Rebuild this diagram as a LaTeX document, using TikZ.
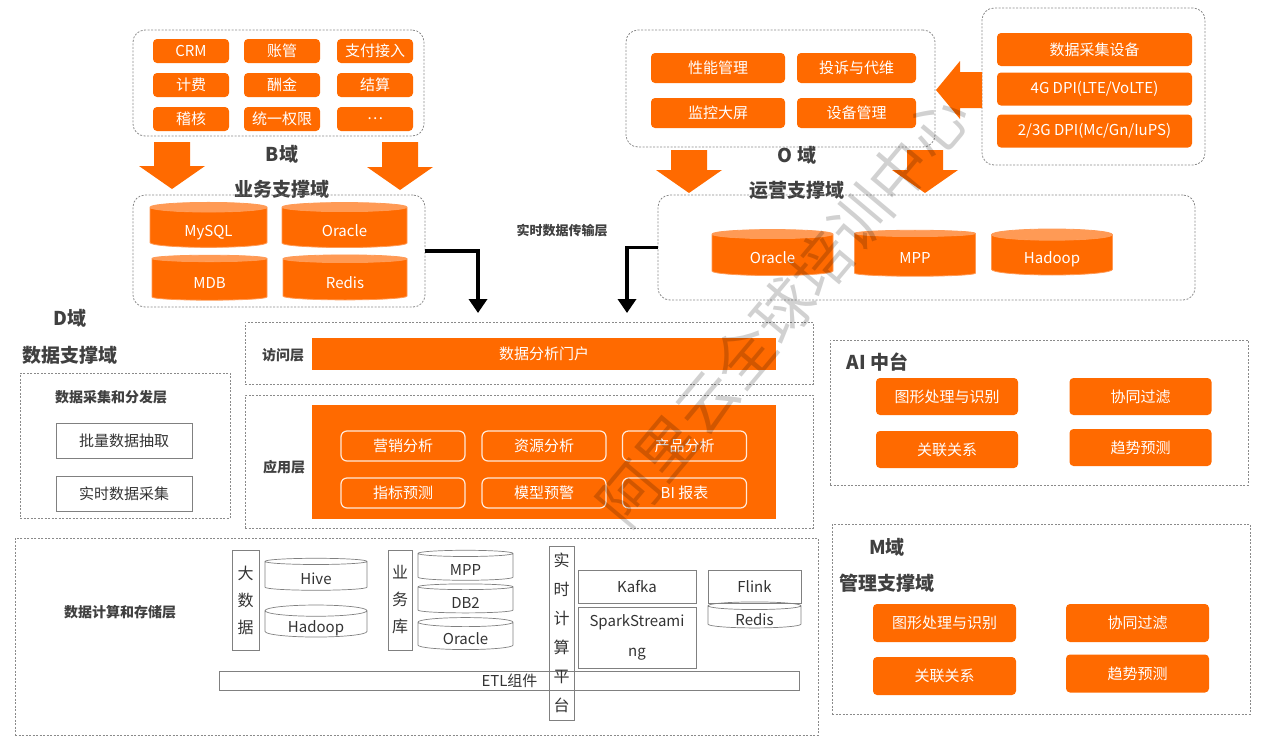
\documentclass[tikz,border=0pt]{standalone}
\usepackage{fontspec}
\setmainfont{Noto Sans CJK SC}
\usetikzlibrary{arrows.meta, shapes.geometric}

\definecolor{aliorange}{HTML}{FF6A00}
\definecolor{aliorangelight}{HTML}{FF9A55}
\definecolor{labelgray}{HTML}{404040}
\definecolor{framegray}{HTML}{8A8A8A}

% block arrow pointing down: x centre, top, tip
\newcommand{\blockdown}[3]{%
  \fill[aliorange] ({#1-18},#2) -- ({#1+18},#2) -- ({#1+18},{#3-23})
    -- ({#1+33},{#3-23}) -- (#1,#3) -- ({#1-33},{#3-23}) -- ({#1-18},{#3-23}) -- cycle;}
% drum label sits a little below the middle
\newcommand{\drumtext}[1]{\lower4.5pt\hbox{#1}}

\begin{document}
\begin{tikzpicture}[x=1pt, y=-1pt,
  font=\fontsize{15}{17}\selectfont,
  tile/.style={fill=aliorange, rounded corners=4pt, text=white, inner sep=0pt,
    minimum height=24pt},
  drum/.style={cylinder, shape border rotate=90, aspect=0.2, inner sep=0pt,
    draw=aliorangelight, line width=0.8pt, text=white, cylinder uses custom fill,
    cylinder body fill=aliorange, cylinder end fill=aliorangelight,
    text height=11pt, text depth=3pt},
  plaindrum/.style={cylinder, shape border rotate=90, aspect=0.2, inner sep=0pt,
    draw=gray, line width=0.7pt, text=black!80, text height=11pt, text depth=3pt},
  plainbox/.style={draw=gray, line width=0.7pt, inner sep=0pt, text=black!80},
  zone/.style={draw=framegray, dash pattern=on 2pt off 1.5pt, line width=0.8pt,
    inner sep=0pt},
  title/.style={text=labelgray, font=\fontsize{19}{21}\selectfont\bfseries},
  caption/.style={text=labelgray, font=\fontsize{14}{16}\selectfont\bfseries},
  wire/.style={line width=3.5pt, -{Triangle[length=14pt, width=18pt]}}]

\useasboundingbox (0,0) rectangle (1267,748);

% B domain
\node[zone, rounded corners=12pt, minimum width=291, minimum height=106] (bapps) at (278.5,83) {};
\foreach \txt/\x/\y in {CRM/191/51, 账管/282/51, 支付接入/375/51,
                        计费/191/85, 酬金/282/85, 结算/375/85,
                        稽核/191/119, 统一权限/282/119, …/375/119}
  \node[tile, minimum width=76] at (\x,\y) {\txt};
\blockdown{172}{142}{189}
\blockdown{400}{142}{190}
\node[title] (bname) at (282,154) {B域};
\node[title] (bfull) at (282,189) {业务支撑域};
\node[zone, rounded corners=12pt, minimum width=292, minimum height=112] (bstore) at (279,251) {};
\node[drum, minimum width=117, minimum height=45] (bmysql) at (208.5,227.5) {\drumtext{MySQL}};
\node[drum, minimum width=125, minimum height=45] (boracle) at (344.5,227.5) {\drumtext{Oracle}};
\node[drum, minimum width=115, minimum height=45] (bmdb) at (209.5,279.5) {\drumtext{MDB}};
\node[drum, minimum width=124, minimum height=45] (bredis) at (345,279.5) {\drumtext{Redis}};

% O domain
\node[zone, rounded corners=12pt, minimum width=309, minimum height=117] (oapps) at (780.5,88.5) {};
\node[tile, minimum width=134, minimum height=30] (operf) at (718,68) {性能管理};
\node[tile, minimum width=119, minimum height=30] (ocompl) at (856.5,68) {投诉与代维};
\node[tile, minimum width=134, minimum height=30] (oscreen) at (718,113) {监控大屏};
\node[tile, minimum width=119, minimum height=30] (odev) at (856.5,113) {设备管理};
\node[zone, rounded corners=12pt, minimum width=223, minimum height=157] (probe) at (1093.5,86.5) {};
\node[tile, minimum width=195, minimum height=33] (probe1) at (1094.5,49.5) {数据采集设备};
\node[tile, minimum width=195, minimum height=33] (probe2) at (1094.5,89) {4G DPI(LTE/VoLTE)};
\node[tile, minimum width=195, minimum height=33] (probe3) at (1094.5,131) {2/3G DPI(Mc/Gn/IuPS)};
\fill[aliorange] (982,72) -- (960,72) -- (960,61) -- (936,90) -- (960,119) -- (960,108) -- (982,108) -- cycle;
\blockdown{689}{150}{193}
\blockdown{925}{150}{193}
\node[title] (oname) at (797,155) {O 域};
\node[title] (ofull) at (797,190) {运营支撑域};
\node[zone, rounded corners=12pt, minimum width=537, minimum height=105] (ostore) at (926.5,247.5) {};
\node[drum, minimum width=121, minimum height=46] (ooracle) at (772.5,255) {\drumtext{Oracle}};
\node[drum, minimum width=121, minimum height=46] (ompp) at (915,255) {\drumtext{MPP}};
\node[drum, minimum width=121, minimum height=46] (ohadoop) at (1052,255) {\drumtext{Hadoop}};

% transfer into the data layers
\node[caption, font=\fontsize{13}{15}\selectfont\bfseries] (xfer) at (562,231) {实时数据传输层};
\coordinate (bdrop) at (478,313);
\coordinate (odrop) at (627,313);
\draw[wire] (bstore.east) -| (bdrop);
\draw[wire] (ostore.west) -| (odrop);

% D domain
\node[title] (dname) at (70,318) {D域};
\node[title] (dfull) at (70,355) {数据支撑域};
\node[zone, minimum width=210, minimum height=145] (collect) at (125,445.5) {};
\node[caption] (collecthead) at (111,397) {数据采集和分发层};
\node[plainbox, minimum width=136, minimum height=35] (batch) at (124,440.5) {批量数据抽取};
\node[plainbox, minimum width=136, minimum height=35] (stream) at (124,493.5) {实时数据采集};

% access and application layers
\node[zone, minimum width=568, minimum height=62] (access) at (529,353) {};
\node[caption] (accesshead) at (283,355) {访问层};
\node[fill=aliorange, text=white, minimum width=464, minimum height=32, inner sep=0pt] (portal) at (544,354) {数据分析门户};
\node[zone, minimum width=568, minimum height=133] (apps) at (529,461.5) {};
\node[caption] (appshead) at (284,467) {应用层};
\node[fill=aliorange, minimum width=464, minimum height=114, inner sep=0pt] (appspanel) at (544,462) {};
\foreach \txt/\x/\y in {营销分析/403/446, 资源分析/544/446, 产品分析/684.5/446,
                        指标预测/403/493, 模型预警/544/493, BI 报表/684.5/493}
  \node[draw=white!85!aliorange, line width=1.2pt, rounded corners=6pt, text=white,
    minimum width=124, minimum height=30, inner sep=0pt] at (\x,\y) {\txt};

% compute and storage layer
\node[zone, minimum width=803, minimum height=197] (compute) at (416.5,636.5) {};
\node[caption] (computehead) at (120,612) {数据计算和存储层};
\node[plainbox, minimum width=27, minimum height=100, align=center,
  font=\fontsize{16}{27}\selectfont] (bigdata) at (245.5,600) {大\\数\\据};
\node[plaindrum, minimum width=102, minimum height=32] (hive) at (316,576) {\drumtext{Hive}};
\node[plaindrum, minimum width=102, minimum height=32] (hadoop) at (316,624) {\drumtext{Hadoop}};
\node[plainbox, minimum width=24, minimum height=100, align=center,
  font=\fontsize{16}{27}\selectfont] (bizdb) at (400,600) {业\\务\\库};
\node[plaindrum, minimum width=95, minimum height=30] (mpp) at (465.5,567) {\drumtext{MPP}};
\node[plaindrum, minimum width=95, minimum height=29] (db2) at (465.5,600) {\drumtext{DB2}};
\node[plaindrum, minimum width=95, minimum height=32] (oracle) at (465.5,636) {\drumtext{Oracle}};
\node[plainbox, minimum width=580, minimum height=19] (etl) at (509.5,680.5) {ETL组件};
\node[plainbox, minimum width=25, minimum height=174, align=center,
  font=\fontsize{16}{29}\selectfont] (rtplat) at (561.5,633) {实\\时\\计\\算\\平\\台};
\node[plainbox, minimum width=118, minimum height=33] (kafka) at (637,586.5) {Kafka};
\node[plainbox, minimum width=118, minimum height=61, align=center,
  font=\fontsize{15}{30}\selectfont] (spark) at (637,637.5) {SparkStreami\\ng};
\node[plainbox, minimum width=93, minimum height=33] (flink) at (754.5,586.5) {Flink};
\node[plaindrum, minimum width=93, minimum height=26] (redis) at (754.5,617) {\drumtext{Redis}};

% AI platform
\node[zone, minimum width=418, minimum height=145] (ai) at (1039,412.5) {};
\node[title, anchor=west] (aihead) at (843,362) {AI 中台};
\node[tile, minimum width=142, minimum height=37] (ai1) at (947,396.5) {图形处理与识别};
\node[tile, minimum width=142, minimum height=37] (ai2) at (1140.5,396.5) {协同过滤};
\node[tile, minimum width=142, minimum height=37] (ai3) at (947,449.5) {关联关系};
\node[tile, minimum width=142, minimum height=37] (ai4) at (1140.5,447.5) {趋势预测};

% M domain
\node[zone, minimum width=418, minimum height=190] (mgmt) at (1041,619) {};
\node[title] (mname) at (887,547) {M域};
\node[title] (mfull) at (887,583) {管理支撑域};
\node[tile, minimum width=143, minimum height=38] (m1) at (944.5,623) {图形处理与识别};
\node[tile, minimum width=143, minimum height=38] (m2) at (1137.5,623) {协同过滤};
\node[tile, minimum width=143, minimum height=38] (m3) at (944.5,676) {关联关系};
\node[tile, minimum width=143, minimum height=38] (m4) at (1137.5,673.5) {趋势预测};

% watermark
\node[rotate=50, text=black, opacity=0.18, font=\fontsize{60}{62}\selectfont] (mark) at (783,310) {阿里云全球培训中心};

\end{tikzpicture}
\end{document}
